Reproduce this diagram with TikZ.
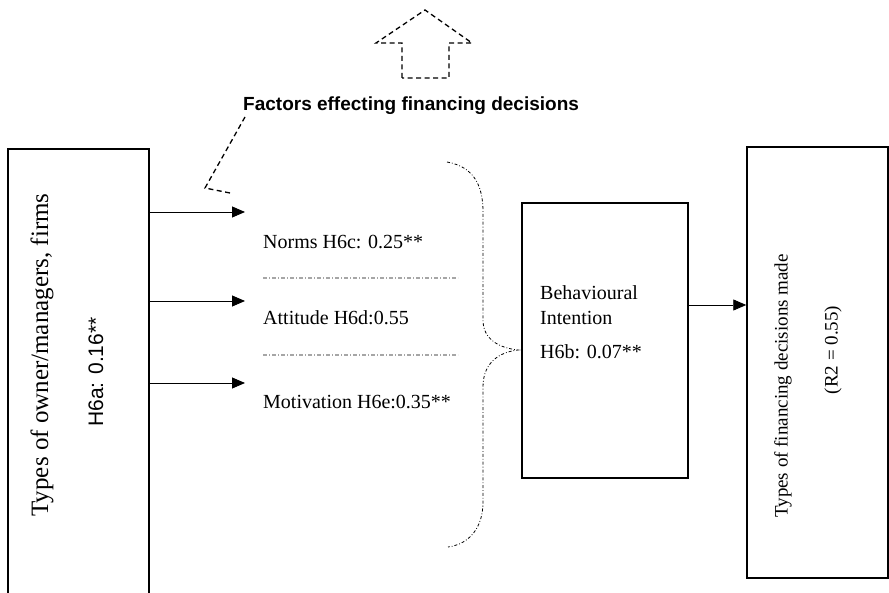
\documentclass[tikz,border=0pt]{standalone}
\usepackage{fontspec}
\setmainfont{Liberation Serif}
\setsansfont{Liberation Sans}
\usetikzlibrary{arrows.meta}
\begin{document}
\begin{tikzpicture}[x=1pt,y=1pt,
  box/.style={draw, line width=1.5pt, inner sep=0pt},
  link/.style={line width=0.9pt, -{Triangle[length=13pt,width=11pt]}},
  dashdot/.style={line width=0.8pt, dash pattern=on 3pt off 2pt on 0.8pt off 2pt},
  sep/.style={line width=1.2pt, gray!70, dash pattern=on 4pt off 2pt on 1pt off 2pt},
  callout/.style={line width=1.3pt, dash pattern=on 5pt off 3.5pt},
  factor/.style={anchor=west, inner sep=0pt, font=\fontsize{20}{24}\selectfont},
]
\useasboundingbox (0,0) rectangle (889,592);

% boxes
\node[box, minimum width=141pt, minimum height=448pt] (owners) at (78.5,219) {};
\node[box, minimum width=166pt, minimum height=275pt] (intent) at (605,251.5) {};
\node[box, minimum width=141pt, minimum height=431pt] (result) at (817.5,229.5) {};

% rotated texts in the side boxes
\node[rotate=90, font=\fontsize{25}{28}\selectfont] (ownerstxt) at (42,237) {Types of owner/managers, firms};
\node[rotate=90, font=\sffamily\fontsize{21}{24}\selectfont] (h6a) at (96,220) {H6a: 0.16**};
\node[rotate=90, font=\fontsize{19}{22}\selectfont] (resulttxt) at (783,206) {Types of financing decisions made};
\node[rotate=90, font=\fontsize{19}{22}\selectfont] (r2) at (833,242) {(R2 = 0.55)};

% text of the middle box
\node[factor] (beh) at (540,299) {Behavioural};
\node[factor] (int) at (540,274) {Intention};
\node[factor] (h6b) at (540,240) {H6b: 0.07**};

% factors
\node[factor] (norms) at (263,350) {Norms H6c: 0.25**};
\node[factor] (att) at (263,274) {Attitude H6d:0.55};
\node[factor] (mot) at (263,190) {Motivation H6e:0.35**};

% arrow ends
\coordinate (a1) at (245,380);
\coordinate (a2) at (245,291);
\coordinate (a3) at (245,209);
\draw[link] (owners.east |- a1) -- (a1);
\draw[link] (owners.east |- a2) -- (a2);
\draw[link] (owners.east |- a3) -- (a3);
\draw[link] (intent.east |- 0,287) -- (result.west |- 0,287);

% separators between factors
\coordinate (s1a) at (263,314); \coordinate (s1b) at (458,314);
\coordinate (s2a) at (263,237); \coordinate (s2b) at (458,237);
\draw[sep] (s1a) -- (s1b);
\draw[sep] (s2a) -- (s2b);

% curly brace grouping the factors
\coordinate (btop) at (447,430);
\coordinate (btip) at (518,242);
\coordinate (bbot) at (448,45);
\draw[dashdot] (btop) .. controls (475,425) and (483,405) .. (483,380)
  -- (483,272) .. controls (483,252) and (500,244) .. (btip)
  .. controls (500,240) and (483,230) .. (483,205)
  -- (483,90) .. controls (483,65) and (470,48) .. (bbot);

% title and its callout
\node[anchor=west, inner sep=0pt, font=\sffamily\bfseries\fontsize{19}{23}\selectfont] (title) at (243,486) {Factors effecting financing decisions};
\coordinate (c1) at (245,475);
\coordinate (c2) at (205,404);
\coordinate (c3) at (230,399);
\draw[callout] (c1) -- (c2) -- (c3);

% dashed up arrow
\draw[callout, line join=miter] (402,514) -- (402,549) -- (376,549) -- (425,582)
  -- (472,549) -- (449,549) -- (449,514) -- cycle;
\end{tikzpicture}
\end{document}
